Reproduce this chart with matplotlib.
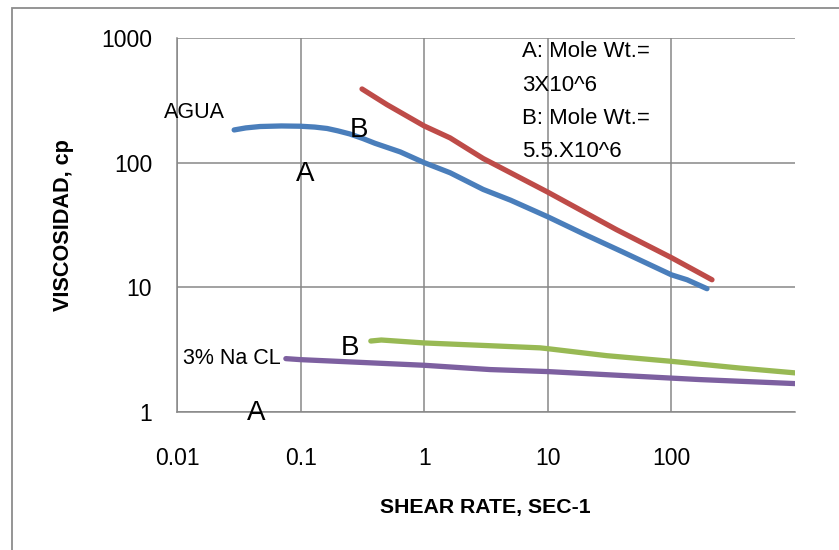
import matplotlib
matplotlib.use("Agg")
import matplotlib.pyplot as plt
from matplotlib import font_manager
from matplotlib.patches import Rectangle
from matplotlib.ticker import FixedLocator, FixedFormatter, NullLocator

# data (shear rate, viscosity)
agua_A_x = [0.029, 0.036, 0.047, 0.07, 0.1, 0.13, 0.164, 0.2, 0.25, 0.32, 0.4, 0.64, 1.0, 1.62, 3.0, 5.0, 10, 20, 40, 100, 134, 194]
agua_A_y = [183, 190, 195, 197, 196, 193, 188, 180, 170, 156, 143, 122, 100, 83, 61, 50, 36.8, 26.5, 19.3, 12.6, 11.5, 9.75]

agua_B_x = [0.314, 0.5, 1.0, 1.62, 3.0, 10, 36, 100, 150, 213]
agua_B_y = [390, 292, 197, 158, 108, 58, 29, 17.3, 13.9, 11.5]

nacl_B_x = [0.37, 0.45, 1.0, 3.0, 8.65, 10, 30, 100, 360, 1000]
nacl_B_y = [3.71, 3.78, 3.58, 3.42, 3.27, 3.22, 2.83, 2.55, 2.25, 2.06]

nacl_A_x = [0.076, 0.1, 1.0, 3.4, 10, 100, 170, 1000]
nacl_A_y = [2.68, 2.63, 2.37, 2.19, 2.11, 1.87, 1.82, 1.69]

x_ticks = [0.01, 0.1, 1, 10, 100]
x_labels = ["0.01", "0.1", "1", "10", "100"]
y_ticks = [1, 10, 100, 1000]
y_labels = ["1", "10", "100", "1000"]

legend_lines = ["A: Mole Wt.=", "3X10^6", "B: Mole Wt.=", "5.5.X10^6"]
legend_y = [700, 376, 205, 111]

names = {f.name for f in font_manager.fontManager.ttflist}
narrow = "Liberation Sans Narrow" if "Liberation Sans Narrow" in names else "Liberation Sans"
plt.rcParams['font.family'] = ['Liberation Sans', 'DejaVu Sans']

fig = plt.figure(figsize=(8.39, 5.5), dpi=100)
ax = fig.add_axes([177/839, 1 - 412/550, (795 - 177)/839, (412 - 38)/550])

grid_c = '#878787'
lw = 3.8
ax.plot(agua_A_x, agua_A_y, color='#4A7EBB', lw=lw, solid_capstyle='round', solid_joinstyle='round')
ax.plot(agua_B_x, agua_B_y, color='#BE4B48', lw=lw, solid_capstyle='round', solid_joinstyle='round')
ax.plot(nacl_B_x, nacl_B_y, color='#98B954', lw=lw, solid_capstyle='round', solid_joinstyle='round')
ax.plot(nacl_A_x, nacl_A_y, color='#7D60A0', lw=lw, solid_capstyle='round', solid_joinstyle='round')

ax.set_xscale('log')
ax.set_yscale('log')
ax.set_xlim(0.01, 1000)
ax.set_ylim(1, 1000)

ax.xaxis.set_major_locator(FixedLocator(x_ticks))
ax.xaxis.set_major_formatter(FixedFormatter(x_labels))
ax.yaxis.set_major_locator(FixedLocator(y_ticks))
ax.yaxis.set_major_formatter(FixedFormatter(y_labels))
ax.xaxis.set_minor_locator(NullLocator())
ax.yaxis.set_minor_locator(NullLocator())
ax.tick_params(length=0, labelsize=16.5)
ax.tick_params(axis='x', pad=25)
ax.tick_params(axis='y', pad=18)
ax.grid(True, color=grid_c, lw=1.1)
ax.set_axisbelow(True)

for s in ['top', 'right']:
    ax.spines[s].set_visible(False)
for s in ['left', 'bottom']:
    ax.spines[s].set_color(grid_c)
    ax.spines[s].set_linewidth(1.1)

fig.text(485/839, 1 - 508/550, "SHEAR RATE, SEC-1", ha='center', va='center',
         fontsize=15.3, fontweight='bold', family=narrow)
fig.text(64/839, 1 - 225/550, "VISCOSIDAD, cp", ha='center', va='center', rotation=90,
         fontsize=15.6, fontweight='bold', family=narrow)

# labels on the curves
ax.text(0.0079, 229, "AGUA", fontsize=15.5, va='baseline', ha='left', clip_on=False)
ax.text(0.1096, 71.5, "A", fontsize=20, va='baseline', ha='center')
ax.text(0.297, 160, "B", fontsize=20, va='baseline', ha='center')
ax.text(0.0112, 2.42, "3% Na CL", fontsize=15.5, va='baseline', ha='left')
ax.text(0.249, 2.85, "B", fontsize=20, va='baseline', ha='center')
ax.text(0.0436, 0.857, "A", fontsize=20, va='baseline', ha='center', clip_on=False)
for line, yy in zip(legend_lines, legend_y):
    ax.text(6.15, yy, line, fontsize=16, va='baseline', ha='left')

fig.patches.append(Rectangle((12/839, -0.1), 1.2, 1.1 - 8/550, transform=fig.transFigure,
                             fill=False, edgecolor='#8c8c8c', lw=1.3))

fig.savefig("out.png", dpi=100)
